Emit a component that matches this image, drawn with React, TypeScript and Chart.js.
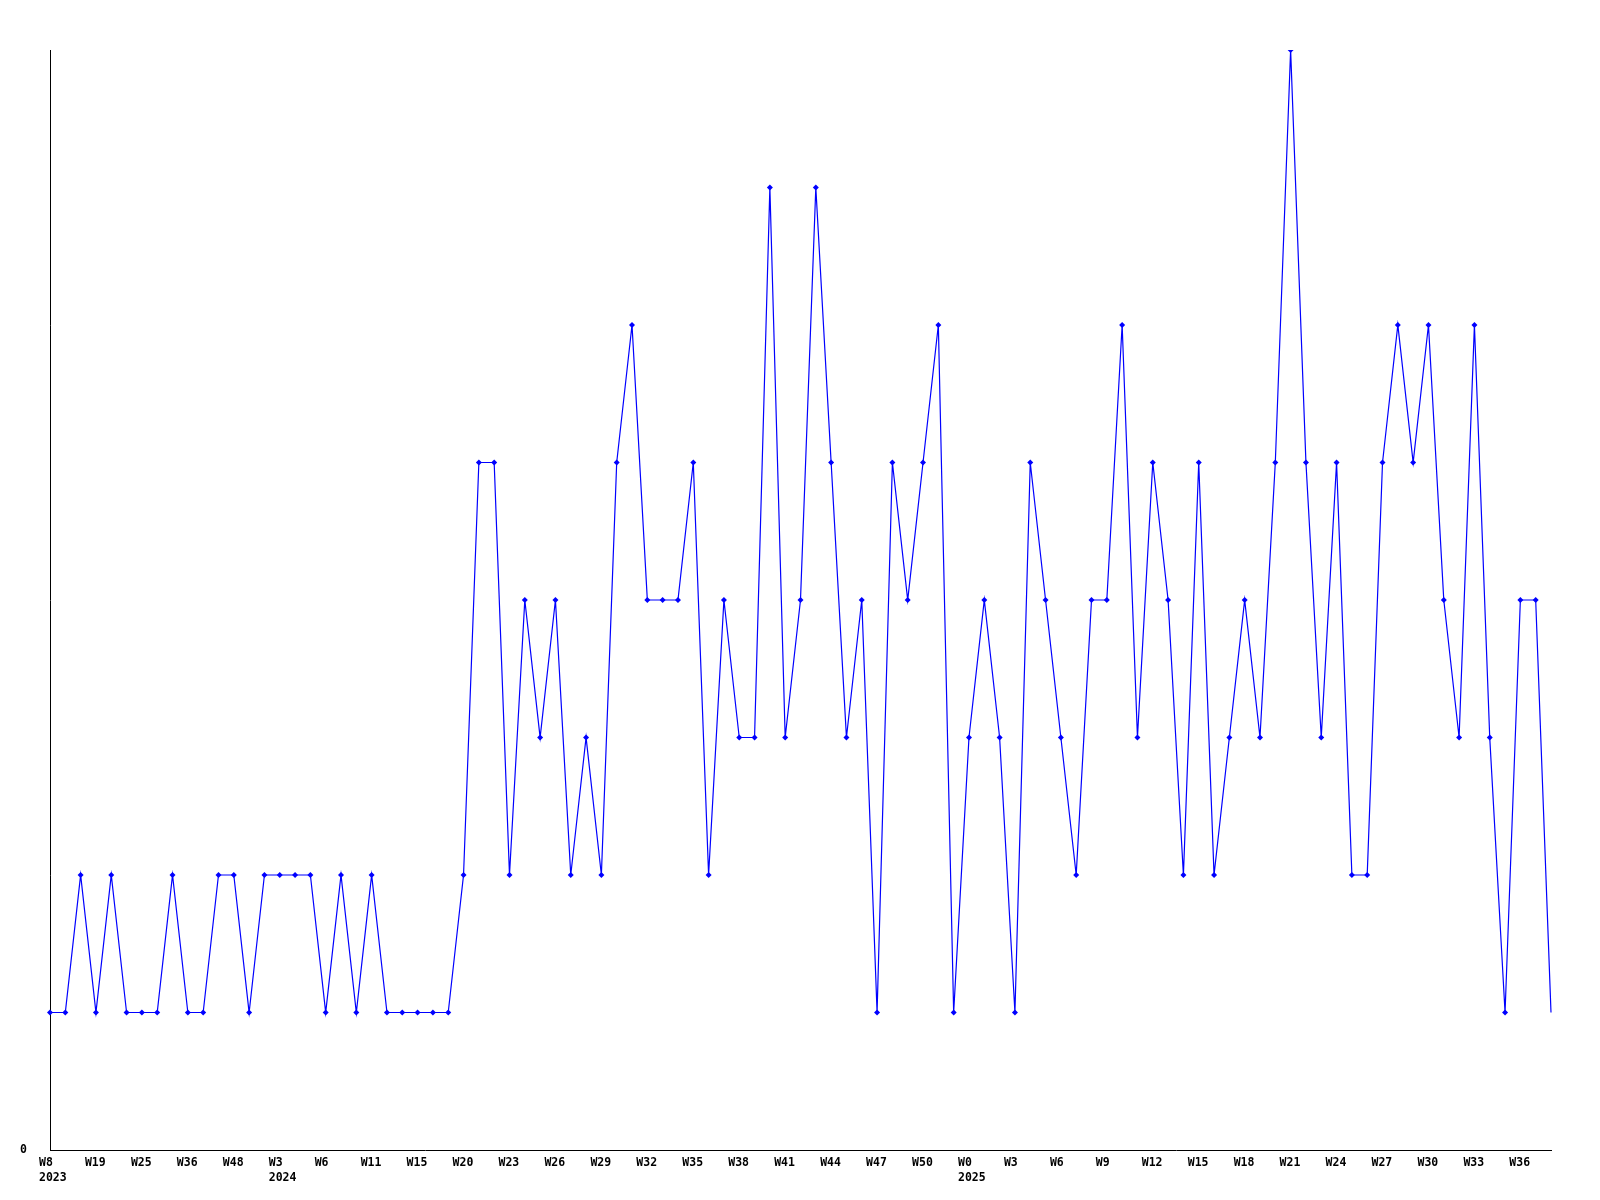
import React, { useEffect, useRef } from "react";
import { Chart, registerables } from "chart.js";

Chart.register(...registerables);

const weeks: string[] = [
  "W8", "W11", "W15", "W19", "W21", "W23", "W25", "W29", "W33", "W36",
  "W40", "W44", "W48", "W50", "W52", "W3", "W4", "W5", "W6", "W8",
  "W9", "W11", "W12", "W13", "W15", "W17", "W18", "W20", "W21", "W22",
  "W23", "W24", "W25", "W26", "W27", "W28", "W29", "W30", "W31", "W32",
  "W33", "W34", "W35", "W36", "W37", "W38", "W39", "W40", "W41", "W42",
  "W43", "W44", "W45", "W46", "W47", "W48", "W49", "W50", "W51", "W52",
  "W0", "W1", "W2", "W3", "W4", "W5", "W6", "W7", "W8", "W9",
  "W10", "W11", "W12", "W13", "W14", "W15", "W16", "W17", "W18", "W19",
  "W20", "W21", "W22", "W23", "W24", "W25", "W26", "W27", "W28", "W29",
  "W30", "W31", "W32", "W33", "W34", "W35", "W36", "W37", "W38",
];

const years: number[] = [
  ...Array(15).fill(2023),
  ...Array(45).fill(2024),
  ...Array(39).fill(2025),
];

const values: number[] = [
  1, 1, 2, 1, 2, 1, 1, 1, 2, 1,
  1, 2, 2, 1, 2, 2, 2, 2, 1, 2,
  1, 2, 1, 1, 1, 1, 1, 2, 5, 5,
  2, 4, 3, 4, 2, 3, 2, 5, 6, 4,
  4, 4, 5, 2, 4, 3, 3, 7, 3, 4,
  7, 5, 3, 4, 1, 5, 4, 5, 6, 1,
  3, 4, 3, 1, 5, 4, 3, 2, 4, 4,
  6, 3, 5, 4, 2, 5, 2, 3, 4, 3,
  5, 8, 5, 3, 5, 2, 2, 5, 6, 5,
  6, 4, 3, 6, 3, 1, 4, 4, 1,
];

const yTickLabels: number[] = [0];

export default function App() {
  const ref = useRef<HTMLCanvasElement | null>(null);

  useEffect(() => {
    document.body.style.margin = "0";
    const canvas = ref.current;
    if (!canvas) return;
    const font = { family: '"DejaVu Sans Mono", monospace', size: 11.5, weight: "bold" as const, lineHeight: "15px" };
    const chart = new Chart(canvas, {
      type: "line",
      data: {
        labels: weeks,
        datasets: [
          {
            data: values,
            borderColor: "#0000ff",
            backgroundColor: "#0000ff",
            borderWidth: 1.2,
            pointStyle: "rectRot",
            pointRadius: (ctx: any) => (ctx.dataIndex === values.length - 1 ? 0 : 3),
            pointBorderWidth: 0,
            pointBackgroundColor: "#0000ff",
            tension: 0,
            fill: false,
          },
        ],
      },
      options: {
        animation: false,
        responsive: false,
        maintainAspectRatio: false,
        events: [],
        layout: { padding: { left: 0, top: 50, right: 49, bottom: 0 } },
        plugins: { legend: { display: false }, tooltip: { enabled: false }, title: { display: false } },
        scales: {
          x: {
            type: "category",
            offset: false,
            grid: { display: false, drawTicks: false },
            border: { display: true, color: "#000000", width: 1 },
            afterFit: (s: any) => {
              s.height = 50;
            },
            ticks: {
              autoSkip: false,
              maxRotation: 0,
              minRotation: 0,
              align: "start",
              labelOffset: -11,
              padding: 6,
              color: "#000000",
              font,
              callback: (_v: any, i: number) => {
                if (i % 3 !== 0) return "";
                const first = i === 0 || years[i] !== years[i - 1];
                return first ? [weeks[i], String(years[i])] : weeks[i];
              },
            },
          },
          y: {
            min: 0,
            max: 8,
            grid: { display: false, drawTicks: false },
            border: { display: true, color: "#000000", width: 1 },
            afterFit: (s: any) => {
              s.width = 50;
            },
            afterBuildTicks: (s: any) => {
              s.ticks = yTickLabels.map((v) => ({ value: v }));
            },
            ticks: {
              padding: 23,
              color: "#000000",
              font,
              callback: (v: any) => String(v),
            },
          },
        },
      },
    });
    return () => chart.destroy();
  }, []);

  return (
    <div style={{ position: "absolute", left: 0, top: 0, width: 1600, height: 1200, background: "#ffffff" }}>
      <canvas ref={ref} width={1600} height={1200} style={{ width: 1600, height: 1200 }} />
    </div>
  );
}
